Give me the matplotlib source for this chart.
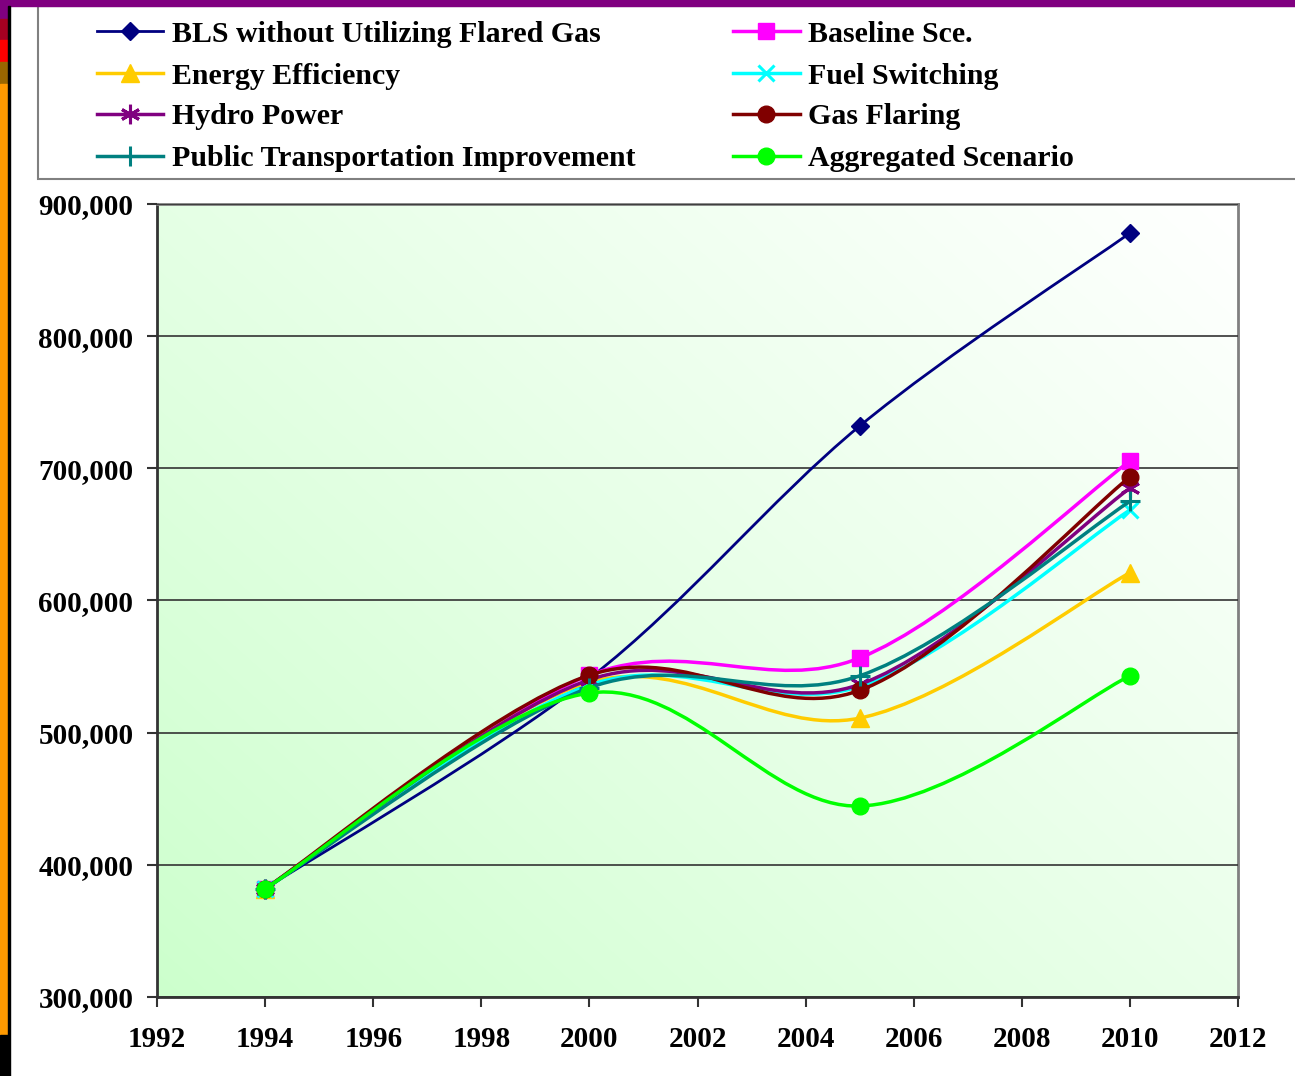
import numpy as np
import matplotlib
matplotlib.use("Agg")
import matplotlib.pyplot as plt
from matplotlib.path import Path
from matplotlib.patches import PathPatch, Rectangle
from matplotlib.lines import Line2D
from matplotlib.ticker import FuncFormatter

plt.rcParams["font.family"] = ["Liberation Serif", "DejaVu Serif"]
plt.rcParams["font.weight"] = "bold"

# Data
years = [1994, 2000, 2005, 2010]
bls = [382000, 541000, 732000, 878000]
baseline = [382000, 543500, 556500, 705500]
energy_eff = [382000, 538000, 511000, 621000]
fuel_switch = [382000, 536000, 535000, 668500]
hydro = [382000, 540000, 536500, 685000]
gas_flaring = [382000, 543500, 532000, 693500]
public_transport = [382000, 534000, 543000, 675000]
aggregated = [382000, 530000, 444500, 543000]

series = [
    ("BLS without Utilizing Flared Gas", bls, "#000080", "D", 9, 2.0),
    ("Energy Efficiency", energy_eff, "#FFCC00", "^", 13, 2.5),
    ("Hydro Power", hydro, "#800080", (6, 2, 0), 14, 2.5),
    ("Public Transportation Improvement", public_transport, "#008080", "+", 15, 2.5),
    ("Baseline Sce.", baseline, "#FF00FF", "s", 12, 2.5),
    ("Fuel Switching", fuel_switch, "#00FFFF", "x", 11, 2.5),
    ("Gas Flaring", gas_flaring, "#800000", "o", 12, 2.5),
    ("Aggregated Scenario", aggregated, "#00FF00", "o", 12, 2.5),
]
draw_order = [0, 4, 1, 5, 2, 6, 3, 7]


def smooth_path(xs, ys):
    # Excel-style smoothed line: cubic Bezier through the points
    pts = np.column_stack([xs, ys]).astype(float)
    n = len(pts)
    verts = [pts[0]]
    codes = [Path.MOVETO]
    for i in range(n - 1):
        p0 = pts[max(i - 1, 0)]
        p1 = pts[i]
        p2 = pts[i + 1]
        p3 = pts[min(i + 2, n - 1)]
        c1 = p1 + (p2 - p0) / 6.0
        c2 = p2 - (p3 - p1) / 6.0
        verts += [c1, c2, p2]
        codes += [Path.CURVE4] * 3
    return Path(verts, codes)


W, H = 1295, 1076
fig = plt.figure(figsize=(W / 100, H / 100), dpi=100)

# slide decoration
fig.add_artist(Rectangle((0, 1 - 6 / H), 1, 6 / H, transform=fig.transFigure,
                         color="#800080", zorder=5))
strip = [(0, 19, "#800080"), (19, 40, "#A50021"), (40, 62, "#FF0000"),
         (62, 84, "#996600"), (84, 1035, "#FF9900"), (1035, 1076, "#000000")]
for y0, y1, c in strip:
    fig.add_artist(Rectangle((0, 1 - y1 / H), 8 / W, (y1 - y0) / H,
                             transform=fig.transFigure, color=c, zorder=5))
fig.add_artist(Rectangle((8 / W, 0), 2 / W, 1 - 6 / H, transform=fig.transFigure,
                         color="black", zorder=5))

# legend box
fig.add_artist(Rectangle((38 / W, 1 - 179 / H), 1.1, 173 / H,
                         transform=fig.transFigure, facecolor="white",
                         edgecolor="#808080", lw=1.5, zorder=1))
rows = [31, 73, 114, 156]
cols = [(97, 163, 172), (733, 800, 808)]
for k, (label, vals, color, marker, ms, lw) in enumerate(series):
    col, row = divmod(k, 4)
    x0, x1, xt = cols[col]
    yy = 1 - rows[row] / H
    fig.add_artist(Line2D([x0 / W, x1 / W], [yy, yy], transform=fig.transFigure,
                          color=color, lw=lw, zorder=3))
    mew = 2.2 if marker in ("x", "+") or isinstance(marker, tuple) else 1
    fig.add_artist(Line2D([(x0 + x1) / 2 / W], [yy], transform=fig.transFigure,
                          marker=marker, markersize=ms, color=color,
                          markeredgewidth=mew, zorder=3))
    fig.text(xt / W, yy, label, fontsize=21.5, fontweight="bold",
             va="center_baseline", ha="left", zorder=4)

# plot area
ax = fig.add_axes([157 / W, 1 - 997 / H, (1238 - 157) / W, (997 - 204) / H])
ax.set_xlim(1992, 2012)
ax.set_ylim(300000, 900000)

u = np.linspace(0, 1, 300)
gx, gy = np.meshgrid(u, u)
t = np.clip((gx * 0.55 + gy * 0.45) ** 0.9, 0, 1)[..., None]
c0 = np.array([0.80, 1.0, 0.80])
c1 = np.array([1.0, 1.0, 1.0])
grad = c0 + (c1 - c0) * t
ax.imshow(grad, extent=[0, 1, 0, 1], transform=ax.transAxes, origin="lower",
          aspect="auto", zorder=0, interpolation="bilinear")

for z, k in enumerate(draw_order):
    label, vals, color, marker, ms, lw = series[k]
    ax.add_patch(PathPatch(smooth_path(years, vals), facecolor="none",
                           edgecolor=color, lw=lw, zorder=3 + z))
    mew = 2.2 if marker in ("x", "+") or isinstance(marker, tuple) else 1
    ax.plot(years, vals, linestyle="none", marker=marker, markersize=ms,
            color=color, markeredgewidth=mew, zorder=3 + z, clip_on=False)

ax.set_xticks(range(1992, 2013, 2))
ax.set_yticks(range(300000, 900001, 100000))
ax.yaxis.set_major_formatter(FuncFormatter(lambda v, p: f"{v:,.0f}"))
ax.grid(axis="y", color="#333333", lw=1.2, zorder=1)
ax.set_axisbelow(False)
ax.tick_params(direction="out", length=7, width=1.5, color="#333333",
               labelsize=21, pad=10)
ax.tick_params(axis="x", pad=14)
for lab in ax.get_xticklabels() + ax.get_yticklabels():
    lab.set_fontweight("bold")
for s in ["top", "right"]:
    ax.spines[s].set_color("#808080")
    ax.spines[s].set_linewidth(2)
for s in ["left", "bottom"]:
    ax.spines[s].set_color("#333333")
    ax.spines[s].set_linewidth(2)

fig.savefig("out.png", dpi=100)
